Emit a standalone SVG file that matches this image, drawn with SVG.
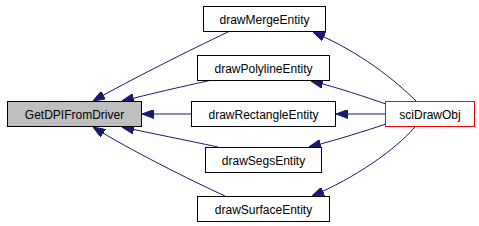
<svg xmlns="http://www.w3.org/2000/svg" width="479" height="226" viewBox="0 0 479 226">
<style>
.box{fill:#fff;stroke:#000;stroke-width:1}
.cur{fill:#bfbfbf;stroke:#000;stroke-width:1}
.red{fill:#fff;stroke:#ff0000;stroke-width:1}
text{font-family:"Liberation Sans",Arial,sans-serif;font-size:12px;fill:#000;text-anchor:middle}
.e{fill:none;stroke:#191970;stroke-width:1;marker-end:url(#a)}
</style>
<defs>
<marker id="a" viewBox="0 0 12 9" refX="12" refY="4.5" markerWidth="12" markerHeight="9" markerUnits="userSpaceOnUse" orient="auto">
<path d="M0,0 L12,4.5 L0,9 z" fill="#191970" stroke="#191970"/>
</marker>
</defs>
<rect width="479" height="226" fill="#fff"/>
<g id="edges">
<path class="e" d="M228,32 C190,50 130,80 93,101"/>
<path class="e" d="M212,80 C180,87 150,94 122,101"/>
<path class="e" d="M191,114 L142,114"/>
<path class="e" d="M218,147 C185,140 150,133 122,127"/>
<path class="e" d="M225,196 C190,180 130,150 93,127"/>
<path class="e" d="M416,101 C395,80 360,52 313,32"/>
<path class="e" d="M386,104 C365,97 340,88 311,81"/>
<path class="e" d="M385,114 L336,114"/>
<path class="e" d="M386,124 C365,131 340,139 309,147"/>
<path class="e" d="M415,127 C395,150 355,178 312,196"/>
</g>
<g id="GetDPIFromDriver"><rect class="cur" x="7.5" y="101.5" width="134" height="25"/><text x="74.5" y="118.5">GetDPIFromDriver</text></g>
<g id="drawMergeEntity"><rect class="box" x="203.5" y="6.5" width="122" height="25"/><text x="264.5" y="23.5">drawMergeEntity</text></g>
<g id="drawPolylineEntity"><rect class="box" x="197.5" y="55.5" width="132" height="25"/><text x="263.5" y="72.5">drawPolylineEntity</text></g>
<g id="drawRectangleEntity"><rect class="box" x="191.5" y="101.5" width="144" height="25"/><text x="263.5" y="118.5">drawRectangleEntity</text></g>
<g id="drawSegsEntity"><rect class="box" x="205.5" y="147.5" width="116" height="25"/><text x="263.5" y="164.5">drawSegsEntity</text></g>
<g id="drawSurfaceEntity"><rect class="box" x="197.5" y="196.5" width="132" height="25"/><text x="263.5" y="213.5">drawSurfaceEntity</text></g>
<g id="sciDrawObj"><rect class="red" x="385.5" y="101.5" width="89" height="25"/><text x="430" y="118.5">sciDrawObj</text></g>
</svg>
